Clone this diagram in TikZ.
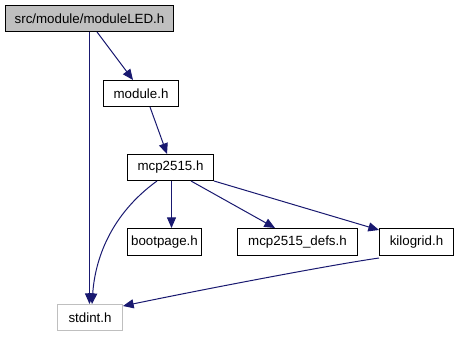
\documentclass[tikz,border=0pt]{standalone}
\usepackage{fontspec}
\setmainfont{Liberation Sans}
\usetikzlibrary{arrows.meta}
\definecolor{edgeblue}{HTML}{191970}
\definecolor{rootfill}{HTML}{BFBFBF}
\definecolor{sysgray}{HTML}{BFBFBF}
\begin{document}
\begin{tikzpicture}[x=0.75pt,y=-0.75pt,
  file/.style={draw=black,fill=white,line width=0.75pt,inner sep=0pt,
    font=\fontsize{10}{12}\selectfont,anchor=north west},
  root/.style={file,fill=rootfill},
  sys/.style={file,draw=sysgray},
  dep/.style={draw=edgeblue,line width=0.75pt,
    -{Triangle[length=8pt,width=6.8pt,fill=edgeblue]}}]
\useasboundingbox (0,0) rectangle (460,336);
% file boxes (size given in px)
\node[root,minimum width=168*0.75pt,minimum height=26*0.75pt] (led) at (5,5) {src/module/moduleLED.h};
\node[file,minimum width=75*0.75pt,minimum height=26*0.75pt] (module) at (103,80) {module.h};
\node[file,minimum width=86*0.75pt,minimum height=26*0.75pt] (mcp) at (127,154) {mcp2515.h};
\node[file,minimum width=74*0.75pt,minimum height=27*0.75pt] (boot) at (127,228) {bootpage.h};
\node[file,minimum width=120*0.75pt,minimum height=27*0.75pt] (defs) at (237,228) {mcp2515\_defs.h};
\node[file,minimum width=74*0.75pt,minimum height=27*0.75pt] (kilo) at (379,228) {kilogrid.h};
\node[sys,minimum width=65*0.75pt,minimum height=26*0.75pt] (stdint) at (57,304) {stdint.h};
% include edges
\draw[dep] (led.south west) ++(84.5,0) coordinate (l1) -- (stdint.north west -| l1);
\draw[dep] (led.south west) ++(92,0) -- ([xshift=30*0.75pt]module.north west);
\draw[dep] ([xshift=47*0.75pt]module.south west) -- ([xshift=40*0.75pt]mcp.north west);
\draw[dep] ([xshift=44.5*0.75pt]mcp.south west) -- ([xshift=44.5*0.75pt]boot.north west);
\draw[dep] ([xshift=64*0.75pt]mcp.south west) -- ([xshift=38*0.75pt]defs.north west);
\draw[dep] (mcp.south east) -- ([yshift=-2*0.75pt]kilo.north west);
\draw[dep] ([xshift=30*0.75pt]mcp.south west) .. controls (110,215) and (95,260) .. ([xshift=35*0.75pt]stdint.north west);
\draw[dep] ([yshift=-2*0.75pt]kilo.south west) .. controls (330,265) and (200,290) .. ([yshift=-2*0.75pt]stdint.north east);
\end{tikzpicture}
\end{document}
